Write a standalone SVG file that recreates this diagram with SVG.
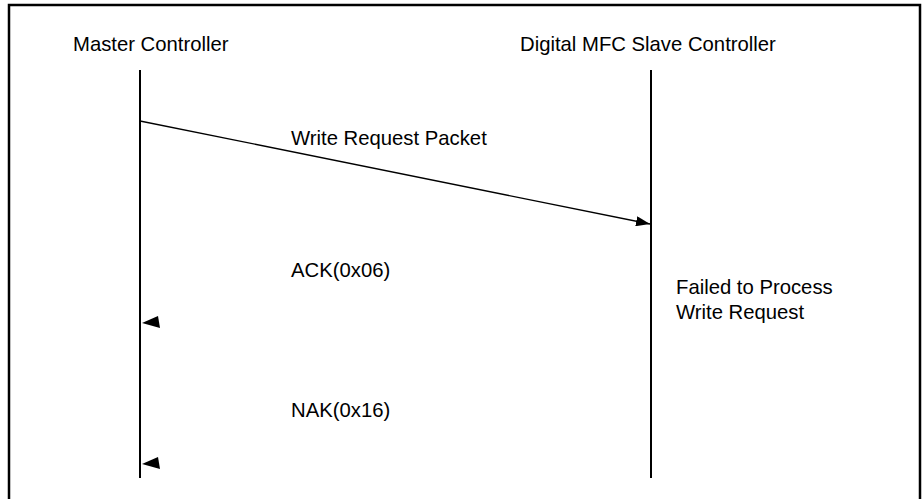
<svg xmlns="http://www.w3.org/2000/svg" width="922" height="499" viewBox="0 0 922 499">
  <style>
    text { font-family: "Liberation Sans", Arial, sans-serif; font-size: 20.3px; fill: #000; }
    .life { stroke: #000; stroke-width: 2; fill: none; }
    .msg { stroke: #000; stroke-width: 1.3; fill: none; }
    .head { fill: #000; stroke: none; }
  </style>
  <defs>
    <marker id="arrow" markerWidth="14" markerHeight="10" refX="14" refY="5" orient="auto" markerUnits="userSpaceOnUse">
      <path d="M0,0 L14,5 L0,10 Z" class="head"/>
    </marker>
  </defs>
  <rect width="922" height="499" fill="#fff"/>
  <!-- frame (open at the bottom) -->
  <path d="M9,499 V5 H920 V499" fill="none" stroke="#000" stroke-width="2.5"/>

  <g id="master">
    <text x="73" y="51">Master Controller</text>
    <line class="life" x1="140" y1="70" x2="140" y2="478"/>
  </g>
  <g id="slave">
    <text x="520" y="51">Digital MFC Slave Controller</text>
    <line class="life" x1="651" y1="70" x2="651" y2="478"/>
  </g>
  <g id="slave-note">
    <text x="676" y="294">Failed to Process</text>
    <text x="676" y="319">Write Request</text>
  </g>

  <g id="connectors">
    <line class="msg" x1="140" y1="121" x2="650" y2="224" marker-end="url(#arrow)"/>
    <polygon class="head" points="142,323 158,316 160,328"/>
    <polygon class="head" points="142,464 158,457 160,469"/>
  </g>
  <g id="labels">
    <text x="291" y="145">Write Request Packet</text>
    <text x="291" y="277">ACK(0x06)</text>
    <text x="291" y="417">NAK(0x16)</text>
  </g>
</svg>
